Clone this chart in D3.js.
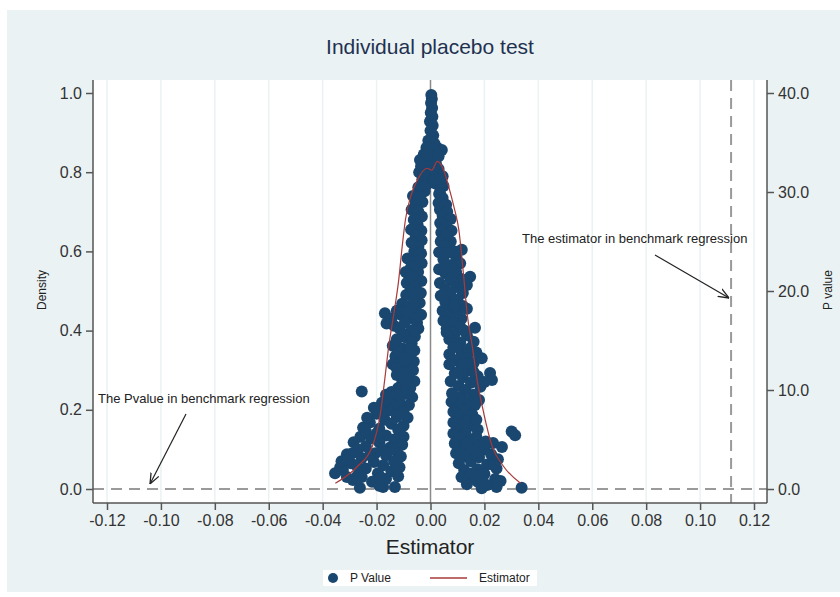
<!DOCTYPE html>
<html>
<head>
<meta charset="utf-8">
<script src="https://cdn.jsdelivr.net/npm/d3@7"></script>
<style>
  body { margin: 0; background: #fff; font-family: "Liberation Sans", Arial, sans-serif; }
  svg { display: block; }
</style>
</head>
<body>
<svg id="chart" width="840" height="597"></svg>
<script>
// Placebo test: p values of placebo estimators (left axis) and kernel density of estimators (right axis)

const xTicks = [-0.12, -0.10, -0.08, -0.06, -0.04, -0.02, 0.00, 0.02, 0.04, 0.06, 0.08, 0.10, 0.12];
const leftTicks = [0.0, 0.2, 0.4, 0.6, 0.8, 1.0];
const rightTicks = [0, 10, 20, 30, 40];
const benchmarkEstimator = 0.1115;
const benchmarkPvalue = 0.0;

// estimator (in units of 0.001), p value
const pointsTop = [
  [0.3,0.995],[0.5,0.985],[0.2,0.975],[0.6,0.962],[0.1,0.950],[0.7,0.940],[-0.2,0.928],[0.8,0.918],
  [0.0,0.905],[1.0,0.893],[-0.8,0.880],[1.5,0.872],[-1.5,0.862],[0.5,0.858],[2.5,0.862],[4.2,0.856],
  [-2.5,0.845],[1.2,0.840],[-3.9,0.831],[0.0,0.828],[2.0,0.822],[-2.0,0.815],[3.0,0.808],[-4.2,0.800],
  [-1.0,0.795],[1.8,0.792],[3.6,0.785],[-3.0,0.782],[-0.8,0.772],[2.2,0.770],[4.8,0.765],[-4.5,0.762],
  [-2.2,0.752],[3.5,0.748],
  [-1.2,0.850],[3.0,0.840],[-3.5,0.815],[1.0,0.805],[-2.5,0.795],[4.5,0.790],[0.8,0.780],[-1.8,0.765],[4.0,0.770]
];
const pointsLeft = [
  [-6.5,0.740],[-4.0,0.738],[-3.0,0.725],[-5.5,0.722],[-7.0,0.705],[-4.5,0.700],[-3.2,0.688],
  [-6.2,0.680],[-4.8,0.668],[-7.2,0.655],[-3.4,0.652],[-5.5,0.640],[-3.3,0.628],[-7.0,0.622],
  [-4.5,0.612],[-6.0,0.600],[-3.5,0.595],[-4.5,0.590],
  [-8.5,0.582],[-5.5,0.578],[-3.3,0.570],[-7.2,0.560],[-9.2,0.548],[-4.6,0.548],[-6.5,0.535],[-8.0,0.540],
  [-3.4,0.525],[-8.8,0.520],[-5.5,0.512],[-7.5,0.500],[-3.6,0.495],[-9.0,0.490],
  [-6.0,0.482],[-4.0,0.470],[-10.5,0.468],[-8.0,0.462],[-5.5,0.452],[-16.9,0.444],[-11.0,0.440],
  [-3.5,0.440],[-7.5,0.432],[-9.5,0.420],[-16.3,0.418],[-5.0,0.420],[-13.5,0.412],[-11.5,0.405],[-7.0,0.400],
  [-6.0,0.470],[-12.5,0.450],[-9.0,0.448],[-14.5,0.430],[-4.5,0.405],
  [-5.8,0.385],[-9.0,0.382],[-12.5,0.378],[-7.0,0.368],[-14.0,0.362],[-10.5,0.355],[-6.0,0.350],
  [-8.5,0.340],[-13.0,0.335],[-11.0,0.325],[-6.2,0.322],[-14.0,0.315],[-8.5,0.310],[-10.5,0.298],[-6.5,0.300],
  [-10.0,0.390],[-7.5,0.355],[-12.0,0.345],[-9.5,0.330],[-12.5,0.305],
  [-12.5,0.288],[-8.0,0.282],[-6.0,0.272],[-10.5,0.268],[-12.0,0.255],[-7.5,0.255],[-25.5,0.246],[-9.5,0.275],
  [-16.5,0.238],[-9.5,0.240],[-14.0,0.228],[-6.8,0.232],[-18.0,0.218],[-11.5,0.218],[-8.0,0.212],
  [-14.5,0.245],[-12.5,0.238],[-15.5,0.215],[-21.0,0.205],[-13.5,0.205],
  [-15.5,0.198],[-10.0,0.195],[-20.0,0.190],[-12.5,0.182],[-8.5,0.180],[-17.0,0.175],[-22.5,0.168],
  [-14.5,0.165],[-10.0,0.160],[-25.0,0.155],[-19.0,0.152],[-12.0,0.150],[-17.5,0.195],[-23.5,0.180],
  [-26.0,0.132],[-16.5,0.135],[-10.0,0.132],[-22.0,0.128],[-13.5,0.125],[-28.5,0.118],[-19.0,0.118],
  [-10.5,0.112],[-24.0,0.108],[-15.0,0.105],[-27.0,0.100],[-12.5,0.095],[-20.0,0.140],[-24.0,0.145],
  [-18.0,0.100],[-14.0,0.100],
  [-20.5,0.090],[-31.0,0.088],[-16.5,0.085],[-11.0,0.082],[-25.5,0.078],[-13.5,0.070],[-21.0,0.068],
  [-29.5,0.065],[-17.5,0.060],[-33.5,0.055],[-11.5,0.055],[-24.0,0.052],[-14.5,0.045],[-32.5,0.048],
  [-35.4,0.040],[-19.5,0.040],[-27.0,0.035],[-12.0,0.032],[-16.5,0.025],[-21.7,0.018],[-28.8,0.023],
  [-13.2,0.005],[-26.2,0.003],[-19.0,0.008],[-17.6,0.005],[-22.5,0.085],[-27.5,0.060],[-18.5,0.030],
  [-25.5,0.030],[-31.0,0.030],[-29.0,0.090],[-33.0,0.070]
];
const pointsRight = [
  [3.2,0.745],[4.5,0.735],[3.0,0.722],[5.8,0.718],[3.5,0.705],[6.2,0.700],[4.5,0.690],[7.5,0.682],
  [3.6,0.672],[5.8,0.665],[7.8,0.652],[4.0,0.648],[6.0,0.638],[3.8,0.625],[7.5,0.625],[5.2,0.615],[11.6,0.604],
  [3.2,0.598],[7.0,0.598],[9.5,0.585],[4.8,0.580],[11.0,0.570],[7.5,0.565],[3.2,0.555],[9.5,0.548],
  [5.5,0.545],[14.7,0.536],[11.5,0.530],[7.5,0.528],[3.5,0.520],[13.5,0.515],[9.5,0.510],[5.5,0.505],
  [12.0,0.495],[7.5,0.490],[3.8,0.488],[9.0,0.600],[5.5,0.560],
  [10.0,0.478],[5.5,0.472],[12.0,0.462],[7.5,0.460],[4.5,0.450],[10.0,0.445],[6.5,0.438],[11.5,0.430],
  [4.8,0.425],[8.5,0.420],[16.5,0.407],[11.0,0.410],[6.0,0.405],[9.0,0.465],[13.5,0.455],
  [9.0,0.392],[13.5,0.388],[7.0,0.378],[16.0,0.372],[11.0,0.370],[8.5,0.358],[14.5,0.355],[17.0,0.345],
  [11.5,0.345],[7.0,0.340],[13.5,0.330],[9.5,0.325],[16.0,0.318],[7.0,0.315],[11.5,0.308],[14.0,0.300],
  [6.0,0.395],[12.5,0.400],[9.5,0.360],[19.0,0.330],[12.5,0.318],
  [22.1,0.293],[9.0,0.292],[17.5,0.285],[12.0,0.282],[22.8,0.275],[7.5,0.272],[15.0,0.268],[10.5,0.260],
  [18.5,0.258],[13.0,0.250],[10.0,0.295],[16.0,0.295],[20.0,0.270],
  [8.0,0.242],[16.0,0.238],[11.0,0.232],[14.0,0.222],[7.8,0.220],[16.5,0.212],[10.5,0.210],
  [12.0,0.225],[18.0,0.225],[14.5,0.205],[11.0,0.200],
  [13.0,0.198],[8.5,0.195],[15.5,0.188],[10.5,0.182],[13.5,0.172],[8.5,0.168],[15.0,0.160],[11.0,0.155],
  [17.0,0.175],[12.0,0.165],[17.5,0.150],
  [30.1,0.145],[31.4,0.136],
  [8.5,0.140],[13.0,0.140],[17.0,0.132],[10.5,0.128],[15.0,0.120],[23.2,0.116],[18.4,0.111],[9.0,0.115],
  [26.5,0.106],[12.5,0.105],[20.0,0.100],[15.5,0.095],[13.5,0.115],[20.5,0.120],[11.0,0.095],[17.5,0.092],
  [9.5,0.090],[22.5,0.088],[12.5,0.082],[18.0,0.080],[25.0,0.075],[15.0,0.070],[10.5,0.065],[21.0,0.062],
  [24.5,0.052],[17.5,0.050],[12.5,0.048],[20.0,0.038],[14.5,0.030],[24.0,0.025],[17.5,0.018],[21.0,0.010],
  [13.5,0.012],[19.0,0.002],[24.5,0.005],[33.8,0.003],[23.5,0.060],[19.0,0.025],[11.5,0.030],[15.5,0.040],
  [26.0,0.020]
];

// kernel density of placebo estimators: estimator, density
const densityCurve = [
  [-0.0353,0.58],[-0.0272,2.25],[-0.0216,4.3],[-0.0186,7.6],[-0.0170,11.0],[-0.0155,14.4],
  [-0.0136,17.7],[-0.0118,21.1],[-0.0105,24.5],[-0.0093,27.2],[-0.0074,29.5],[-0.0049,31.2],
  [-0.0012,32.4],[0.0005,32.2],[0.0025,33.1],[0.0049,32.2],[0.0068,30.5],[0.0087,28.5],
  [0.0105,26.2],[0.0123,21.5],[0.0136,17.7],[0.0155,14.4],[0.0173,11.0],[0.0198,7.6],
  [0.0229,4.3],[0.0272,2.25],[0.0334,0.58]
];

const navy = '#1a476f';
const maroon = '#a83a3a';
const panelBg = '#eaf2f3';
const textColor = '#333';
const fontFamily = '"Liberation Sans", Arial, sans-serif';

const svg = d3.select('#chart');

const plot = { left: 93, right: 767, top: 80, bottom: 503 };

const x = d3.scaleLinear().domain([-0.12, 0.12]).range([107, 754]);
const yLeft = d3.scaleLinear().domain([0, 1]).range([489, 93]);
const yRight = d3.scaleLinear().domain([0, 40]).range([489, 93]);

const hyphen = f => d => f(d).replace('\u2212', '-');

// background panel
svg.append('rect')
  .attr('x', 7).attr('y', 10)
  .attr('width', 833).attr('height', 582)
  .attr('fill', panelBg);

svg.append('rect')
  .attr('x', plot.left).attr('y', plot.top)
  .attr('width', plot.right - plot.left).attr('height', plot.bottom - plot.top)
  .attr('fill', '#fff');

// title
svg.append('text')
  .attr('x', 430).attr('y', 54)
  .attr('text-anchor', 'middle')
  .attr('font-size', 21)
  .attr('fill', '#1f3150')
  .text('Individual placebo test');

// vertical grid lines
svg.append('g')
  .selectAll('line')
  .data(xTicks.filter(d => d !== 0))
  .enter().append('line')
  .attr('x1', d => x(d)).attr('x2', d => x(d))
  .attr('y1', plot.top).attr('y2', plot.bottom)
  .attr('stroke', panelBg)
  .attr('stroke-width', 1.5);

// x = 0 reference line
svg.append('line')
  .attr('x1', x(0)).attr('x2', x(0))
  .attr('y1', plot.top).attr('y2', plot.bottom)
  .attr('stroke', '#8a8a8a')
  .attr('stroke-width', 1.5);

// benchmark dashed lines
svg.append('line')
  .attr('x1', plot.left).attr('x2', plot.right)
  .attr('y1', yLeft(benchmarkPvalue)).attr('y2', yLeft(benchmarkPvalue))
  .attr('stroke', '#9a9a9a')
  .attr('stroke-width', 2)
  .attr('stroke-dasharray', '11,7');

svg.append('line')
  .attr('x1', x(benchmarkEstimator)).attr('x2', x(benchmarkEstimator))
  .attr('y1', plot.top).attr('y2', plot.bottom)
  .attr('stroke', '#9a9a9a')
  .attr('stroke-width', 2)
  .attr('stroke-dasharray', '11,7');

// scatter of p values
const allPoints = pointsTop.concat(pointsLeft, pointsRight);
svg.append('g')
  .selectAll('circle')
  .data(allPoints)
  .enter().append('circle')
  .attr('cx', d => x(d[0] / 1000))
  .attr('cy', d => yLeft(d[1]))
  .attr('r', 6)
  .attr('fill', navy);

// density curve
const line = d3.line()
  .x(d => x(d[0]))
  .y(d => yRight(d[1]))
  .curve(d3.curveMonotoneX);

svg.append('path')
  .datum(densityCurve)
  .attr('d', line)
  .attr('fill', 'none')
  .attr('stroke', maroon)
  .attr('stroke-width', 1.2);

// axes
const axisColor = '#555';
function styleAxis(g) {
  g.select('.domain').attr('stroke', axisColor).attr('stroke-width', 1.5);
  g.selectAll('.tick line').attr('stroke', axisColor).attr('stroke-width', 1.5);
  g.selectAll('.tick text').attr('fill', textColor).attr('font-size', 16)
    .attr('font-family', fontFamily);
}

const xAxis = svg.append('g')
  .attr('transform', `translate(0,${plot.bottom})`)
  .call(d3.axisBottom(x).tickValues(xTicks).tickFormat(hyphen(d3.format('.2f'))).tickSizeOuter(0).tickSize(7).tickPadding(5));
xAxis.select('.domain').attr('d', `M${plot.left},0H${plot.right}`);
styleAxis(xAxis);

const leftAxis = svg.append('g')
  .attr('transform', `translate(${plot.left},0)`)
  .call(d3.axisLeft(yLeft).tickValues(leftTicks).tickFormat(d3.format('.1f')).tickSizeOuter(0).tickSize(7).tickPadding(4));
leftAxis.select('.domain').attr('d', `M0,${plot.top}V${plot.bottom}`);
styleAxis(leftAxis);

const rightAxis = svg.append('g')
  .attr('transform', `translate(${plot.right},0)`)
  .call(d3.axisRight(yRight).tickValues(rightTicks).tickFormat(d3.format('.1f')).tickSizeOuter(0).tickSize(7).tickPadding(4));
rightAxis.select('.domain').attr('d', `M0,${plot.top}V${plot.bottom}`);
styleAxis(rightAxis);

// axis titles
svg.append('text')
  .attr('x', 430).attr('y', 554)
  .attr('text-anchor', 'middle')
  .attr('font-size', 21)
  .attr('fill', '#222')
  .text('Estimator');

svg.append('text')
  .attr('transform', 'translate(46,290) rotate(-90)')
  .attr('text-anchor', 'middle')
  .attr('font-size', 12)
  .attr('fill', '#222')
  .text('Density');

svg.append('text')
  .attr('transform', 'translate(832,290) rotate(-90)')
  .attr('text-anchor', 'middle')
  .attr('font-size', 12)
  .attr('fill', '#222')
  .text('P value');

// annotations
svg.append('defs').append('marker')
  .attr('id', 'arrow')
  .attr('viewBox', '0 0 10 10')
  .attr('refX', 10).attr('refY', 5)
  .attr('markerWidth', 9).attr('markerHeight', 9)
  .attr('orient', 'auto')
  .append('path')
  .attr('d', 'M0,1L10,5L0,9')
  .attr('fill', 'none')
  .attr('stroke', '#222')
  .attr('stroke-width', 1.2);

svg.append('text')
  .attr('x', 522).attr('y', 243)
  .attr('font-size', 13)
  .attr('fill', '#222')
  .text('The estimator in benchmark regression');

svg.append('line')
  .attr('x1', 655).attr('y1', 255)
  .attr('x2', x(benchmarkEstimator) - 2).attr('y2', 298)
  .attr('stroke', '#222').attr('stroke-width', 1.2)
  .attr('marker-end', 'url(#arrow)');

svg.append('text')
  .attr('x', 98).attr('y', 403)
  .attr('font-size', 13)
  .attr('fill', '#222')
  .text('The Pvalue in benchmark regression');

svg.append('line')
  .attr('x1', 186).attr('y1', 414)
  .attr('x2', 150).attr('y2', yLeft(benchmarkPvalue) - 5)
  .attr('stroke', '#222').attr('stroke-width', 1.2)
  .attr('marker-end', 'url(#arrow)');

// legend
const legend = svg.append('g');
legend.append('rect')
  .attr('x', 323).attr('y', 570)
  .attr('width', 214).attr('height', 16)
  .attr('fill', '#fff');
legend.append('circle')
  .attr('cx', 333).attr('cy', 578).attr('r', 5)
  .attr('fill', navy);
legend.append('text')
  .attr('x', 350).attr('y', 582)
  .attr('font-size', 12).attr('fill', '#222')
  .text('P Value');
legend.append('line')
  .attr('x1', 430).attr('x2', 467).attr('y1', 578).attr('y2', 578)
  .attr('stroke', maroon).attr('stroke-width', 1.5);
legend.append('text')
  .attr('x', 479).attr('y', 582)
  .attr('font-size', 12).attr('fill', '#222')
  .text('Estimator');
</script>
</body>
</html>
